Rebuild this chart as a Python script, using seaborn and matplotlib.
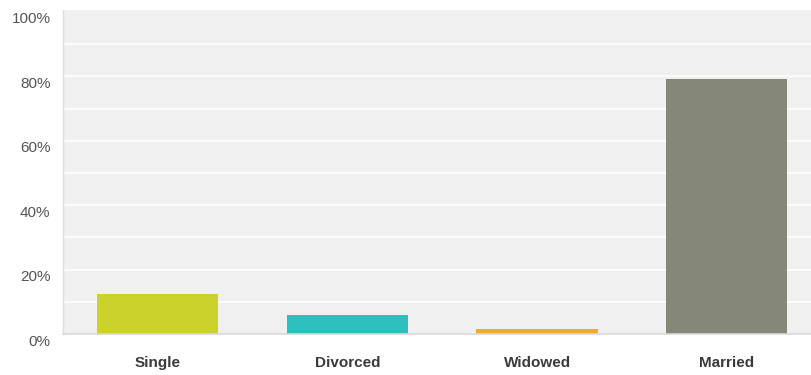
import matplotlib
matplotlib.use("Agg")
import matplotlib.pyplot as plt
import matplotlib.transforms as mtransforms
import seaborn as sns
import pandas as pd

# Marital status breakdown (percent of respondents)
categories = ["Single", "Divorced", "Widowed", "Married"]
percent = [12.4, 5.9, 1.5, 79.3]
bar_colors = ["#ccd22c", "#2fbfbf", "#efad2b", "#868877"]
ytick_values = [0, 20, 40, 60, 80, 100]
ytick_labels = ["0%", "20%", "40%", "60%", "80%", "100%"]

df = pd.DataFrame({"status": categories, "percent": percent})

sns.set_theme(style="white")
plt.rcParams["font.family"] = ["Liberation Sans", "DejaVu Sans"]

fig = plt.figure(figsize=(8.12, 3.75), dpi=100)
ax = fig.add_axes([63 / 812, 41 / 375, 1 - 63 / 812, 324 / 375])
ax.set_facecolor("#f0f0f0")

sns.barplot(data=df, x="status", y="percent", hue="status",
            palette=bar_colors, order=categories, hue_order=categories,
            width=0.64, legend=False, ax=ax, saturation=1, linewidth=0)

# light horizontal grid every 10%
for v in range(10, 100, 10):
    ax.axhline(v, color="white", lw=1.2, zorder=0.5)

ax.set_ylim(0, 100.6)
ax.set_xlim(-0.5, 3.45)
ax.set_yticks(ytick_values)
ax.set_yticklabels(ytick_labels, fontsize=11, color="#555555")
ax.tick_params(axis="y", length=0, pad=9)
ax.tick_params(axis="x", length=0, pad=16)
for lbl in ax.get_xticklabels():
    lbl.set_fontweight("bold")
    lbl.set_fontsize(11)
    lbl.set_color("#3a3a3a")

# nudge y labels slightly below their gridlines
offset = mtransforms.ScaledTranslation(0, -6 / 100, fig.dpi_scale_trans)
for lbl in ax.get_yticklabels():
    lbl.set_transform(lbl.get_transform() + offset)

ax.set_xlabel("")
ax.set_ylabel("")
for side in ["top", "right"]:
    ax.spines[side].set_visible(False)
ax.spines["left"].set_color("#dddddd")
ax.spines["left"].set_linewidth(1)
ax.spines["bottom"].set_color("#d8d8d8")
ax.spines["bottom"].set_linewidth(1.2)

fig.savefig("out.png", dpi=100)
